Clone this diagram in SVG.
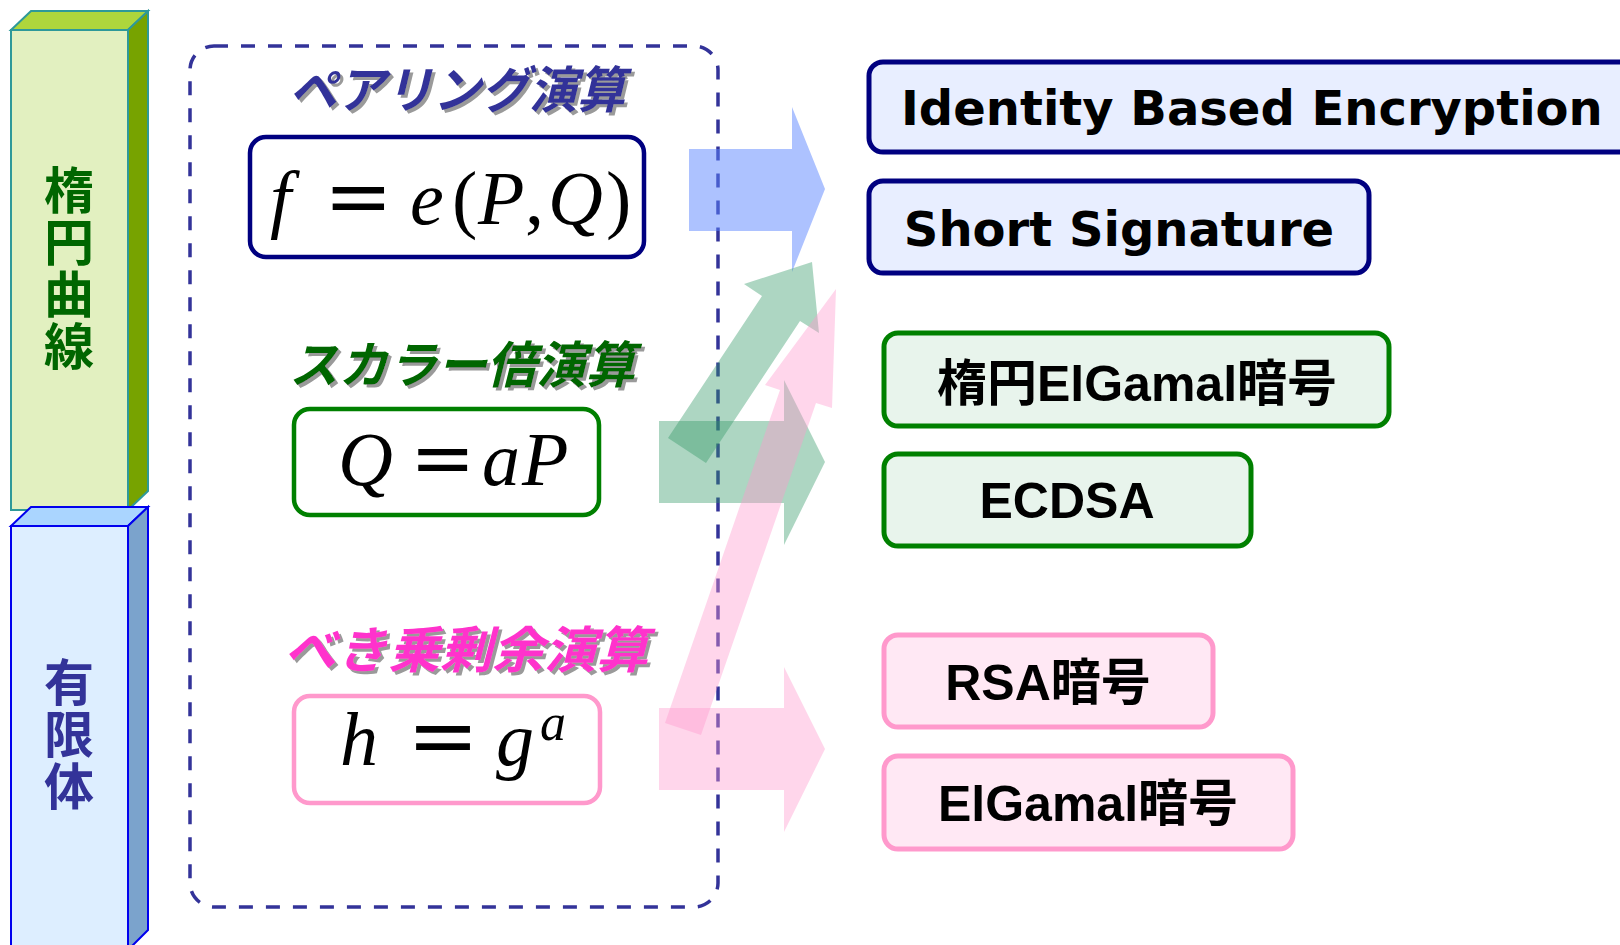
<svg xmlns="http://www.w3.org/2000/svg" width="1620" height="945" viewBox="0 0 1620 945">
<style>
.cjk{font-family:"Liberation Sans","Noto Sans CJK JP",sans-serif;font-weight:bold}
.title{font-family:"Noto Sans CJK JP",sans-serif;font-weight:bold;font-style:italic;font-size:50px}
.lbl{font-family:"Liberation Sans","Noto Sans CJK JP",sans-serif;font-weight:bold;font-size:50px;fill:#000;text-anchor:middle}
.en{font-family:"DejaVu Sans",sans-serif;font-weight:bold;font-size:48px;fill:#000}
.math{font-family:"Liberation Serif",serif;font-style:italic;font-size:76px;fill:#000}
.op{font-family:"DejaVu Serif",serif;font-style:normal}
.rm{font-family:"Liberation Serif",serif;font-style:normal}
.fbox{fill:#fff;stroke-width:4.5}
.rbox{stroke-width:5}
.arrow{stroke:none}
</style>
<defs>
<filter id="sh" x="-10%" y="-20%" width="130%" height="150%">
<feDropShadow dx="3" dy="3" stdDeviation="0.6" flood-color="#9a9a9a" flood-opacity="1"/>
</filter>
</defs>

<g id="ec-bar">
<rect x="11" y="30" width="117" height="480" fill="#E2F0C0" stroke="#2E9999" stroke-width="2"/>
<polygon points="11,30 31,11 148,11 128,30" fill="#AED63C" stroke="#2E9999" stroke-width="2"/>
<polygon points="128,30 148,11 148,491 128,510" fill="#77A300" stroke="#2E9999" stroke-width="2"/>
<text class="cjk" font-size="50" fill="#006600" text-anchor="middle"><tspan x="69" y="209">楕</tspan><tspan x="69" y="261">円</tspan><tspan x="69" y="313">曲</tspan><tspan x="69" y="365">線</tspan></text>
</g>

<g id="ff-bar">
<rect x="11" y="526" width="117" height="430" fill="#DDEEFF" stroke="#0000EE" stroke-width="2"/>
<polygon points="11,526 31,507 148,507 128,526" fill="#AAD5FF" stroke="#0000EE" stroke-width="2"/>
<polygon points="128,526 148,507 148,930 128,950" fill="#7BA3CC" stroke="#0000EE" stroke-width="2"/>
<text class="cjk" font-size="50" fill="#333399" text-anchor="middle"><tspan x="69" y="701">有</tspan><tspan x="69" y="753">限</tspan><tspan x="69" y="805">体</tspan></text>
</g>

<g id="ops-frame">
<rect x="190" y="46" width="528" height="861" rx="24" ry="24" fill="none" stroke="#333399" stroke-width="3.5" stroke-dasharray="14 13"/>
</g>

<g id="pairing">
<text class="title" x="289" y="108" fill="#333399" filter="url(#sh)" textLength="336" lengthAdjust="spacingAndGlyphs">ペアリング演算</text>
<rect class="fbox" x="250" y="137" width="394" height="120" rx="16" stroke="#000080"/>
<text class="math" y="224"><tspan x="270">f</tspan><tspan class="op" x="324" font-size="82">=</tspan><tspan x="410">e</tspan><tspan class="rm" x="452">(</tspan><tspan x="478">P</tspan><tspan class="rm" x="525">,</tspan><tspan x="548">Q</tspan><tspan class="rm" x="606">)</tspan></text>
</g>

<g id="scalar">
<text class="title" x="289" y="383" fill="#006600" filter="url(#sh)" textLength="346" lengthAdjust="spacingAndGlyphs">スカラー倍演算</text>
<rect class="fbox" x="294" y="409" width="305" height="106" rx="16" stroke="#008000"/>
<text class="math" y="485"><tspan x="338">Q</tspan><tspan class="op" x="410" font-size="78">=</tspan><tspan x="482">a</tspan><tspan x="522">P</tspan></text>
</g>

<g id="modexp">
<text class="title" x="284" y="668" fill="#FF33CC" filter="url(#sh)" textLength="364" lengthAdjust="spacingAndGlyphs">べき乗剰余演算</text>
<rect class="fbox" x="294" y="696" width="306" height="107" rx="16" stroke="#FF99CC"/>
<text class="math" y="765"><tspan x="340">h</tspan><tspan class="op" x="407" font-size="86">=</tspan><tspan x="496">g</tspan><tspan x="540" y="740" font-size="52">a</tspan></text>
</g>

<g id="connectors">
<polygon class="arrow" points="689,149 792,149 792,107 825,189 792,272 792,231 689,231" fill="#5C85FF" fill-opacity="0.5"/>
<polygon class="arrow" points="659,421 784,421 784,380 825,462 784,545 784,503 659,503" fill="#339966" fill-opacity="0.4"/>
<polygon class="arrow" points="668,438 762,296 744,284 812,262 819,333 800,321 706,463" fill="#339966" fill-opacity="0.4"/>
<polygon class="arrow" points="665,723 780,390 765,385 836,289 832,408 816,403 701,735" fill="#FF99CC" fill-opacity="0.4"/>
<polygon class="arrow" points="659,708 784,708 784,667 825,749 784,832 784,790 659,790" fill="#FF99CC" fill-opacity="0.4"/>
</g>

<g id="ibe">
<rect class="rbox" x="869" y="62" width="770" height="90" rx="14" fill="#E8EEFF" stroke="#000080"/>
<text class="en" x="901" y="125">Identity Based Encryption</text>
</g>
<g id="short-sig">
<rect class="rbox" x="869" y="181" width="500" height="92" rx="14" fill="#E8EEFF" stroke="#000080"/>
<text class="en" x="1119" y="246" text-anchor="middle">Short Signature</text>
</g>
<g id="ec-elgamal">
<rect class="rbox" x="884" y="333" width="505" height="93" rx="14" fill="#E8F4EC" stroke="#008000"/>
<text class="lbl" x="1137" y="401">楕円ElGamal暗号</text>
</g>
<g id="ecdsa">
<rect class="rbox" x="884" y="454" width="367" height="92" rx="14" fill="#E8F4EC" stroke="#008000"/>
<text class="lbl" x="1067" y="518">ECDSA</text>
</g>
<g id="rsa">
<rect class="rbox" x="884" y="635" width="329" height="92" rx="14" fill="#FFE8F4" stroke="#FF99CC"/>
<text class="lbl" x="1048" y="700">RSA暗号</text>
</g>
<g id="elgamal">
<rect class="rbox" x="884" y="756" width="409" height="93" rx="14" fill="#FFE8F4" stroke="#FF99CC"/>
<text class="lbl" x="1088" y="821">ElGamal暗号</text>
</g>
</svg>
